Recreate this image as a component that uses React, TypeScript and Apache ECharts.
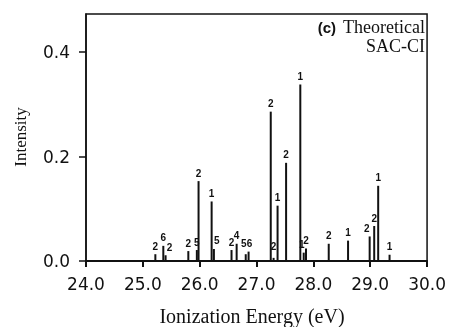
import React, { useEffect, useRef } from "react";
import * as echarts from "echarts";

const energies = [
  25.22, 25.36, 25.4, 25.8, 25.95, 25.98, 26.21, 26.25, 26.56, 26.65, 26.81, 26.86,
  27.25, 27.3, 27.37, 27.52, 27.77, 27.83, 27.87, 28.27, 28.61, 28.99, 29.07, 29.14, 29.34,
];
const intensities = [
  0.013, 0.029, 0.011, 0.019, 0.021, 0.153, 0.114, 0.023, 0.021, 0.033, 0.013, 0.018,
  0.286, 0.006, 0.106, 0.188, 0.338, 0.016, 0.024, 0.033, 0.039, 0.047, 0.067, 0.144, 0.012,
];
const multiplicities = [
  "2", "6", "2", "2", "5", "2", "1", "5", "2", "4", "5", "6",
  "2", "2", "1", "2", "1", "1", "2", "2", "1", "2", "2", "1", "1",
];
const yTicks = [0, 0.2, 0.4];
const xName = "Ionization Energy (eV)";
const yName = "Intensity";

export default function App() {
  const ref = useRef<HTMLDivElement>(null);
  useEffect(() => {
    const chart = echarts.init(ref.current!, null, { renderer: "svg" });
    const ink = "#111";
    const labelShift: Record<number, number[]> = {
      2: [4, 0], 7: [3, 0], 10: [-2, -3], 11: [1, 0], 13: [0, -3], 17: [-2, 0], 21: [-3, 0],
    };
    chart.setOption({
      animation: false,
      grid: {
        left: 86, right: 13, top: 14, bottom: 66,
        show: true, borderColor: ink, borderWidth: 1.5, backgroundColor: "transparent",
      },
      xAxis: {
        type: "value", min: 24, max: 30, interval: 1,
        axisLine: { show: true, lineStyle: { color: ink, width: 2 } },
        axisTick: { show: true, length: 6, lineStyle: { color: ink, width: 2 } },
        axisLabel: {
          formatter: (v: number) => v.toFixed(1), color: ink, fontSize: 17,
          fontFamily: "DejaVu Sans", margin: 14,
        },
        splitLine: { show: false },
      },
      yAxis: {
        type: "value", min: 0, max: 0.473,
        axisLine: { show: true, lineStyle: { color: ink, width: 1.5 } },
        axisTick: { show: true, length: 7, customValues: yTicks, lineStyle: { color: ink, width: 1.5 } },
        axisLabel: {
          customValues: yTicks, formatter: (v: number) => v.toFixed(1), color: ink,
          fontSize: 17, fontFamily: "DejaVu Sans", margin: 16,
        },
        splitLine: { show: false },
      },
      series: [
        {
          type: "bar",
          data: energies.map((e, i) => ({
            value: [e, intensities[i]],
            label: labelShift[i] ? { offset: labelShift[i] } : undefined,
          })),
          barWidth: 2,
          itemStyle: { color: ink },
          label: {
            show: true, position: "top", distance: 3,
            formatter: (p: any) => multiplicities[p.dataIndex],
            fontSize: 10, fontWeight: "bold", fontFamily: "Liberation Sans", color: ink,
          },
        },
      ],
      graphic: [
        {
          type: "text", x: 252, y: 316,
          style: { text: xName, font: '20px "Liberation Serif"', fill: ink, textAlign: "center", textVerticalAlign: "middle" },
        },
        {
          type: "text", x: 20, y: 137, rotation: Math.PI / 2,
          style: { text: yName, font: '17px "Liberation Serif"', fill: ink, textAlign: "center", textVerticalAlign: "middle" },
        },
        {
          type: "text", x: 336, y: 27,
          style: { text: "(c)", font: 'bold 15px "Liberation Sans"', fill: ink, textAlign: "right", textVerticalAlign: "middle" },
        },
        {
          type: "text", x: 425, y: 27,
          style: { text: "Theoretical", font: '18px "Liberation Serif"', fill: ink, textAlign: "right", textVerticalAlign: "middle" },
        },
        {
          type: "text", x: 425, y: 46,
          style: { text: "SAC-CI", font: '18px "Liberation Serif"', fill: ink, textAlign: "right", textVerticalAlign: "middle" },
        },
      ],
    });
    return () => chart.dispose();
  }, []);
  return <div ref={ref} style={{ position: "fixed", left: 0, top: 0, width: 449, height: 327 }} />;
}
